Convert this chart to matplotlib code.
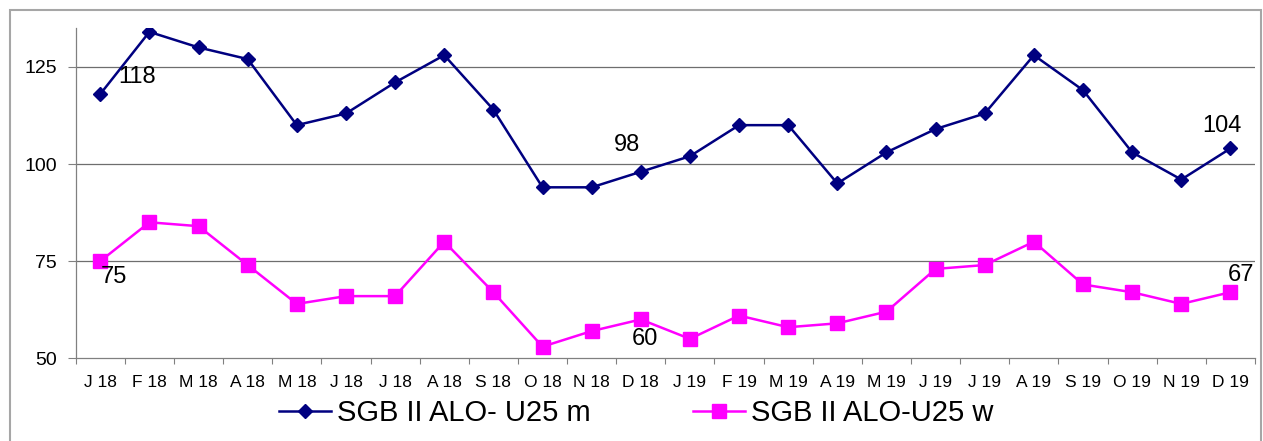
import matplotlib
matplotlib.use('Agg')
import matplotlib.pyplot as plt
import matplotlib.patches as patches
from matplotlib import font_manager
import numpy as np

# ── data ──────────────────────────────────────────────────────────────────
months = ["J 18", "F 18", "M 18", "A 18", "M 18", "J 18", "J 18", "A 18",
          "S 18", "O 18", "N 18", "D 18", "J 19", "F 19", "M 19", "A 19",
          "M 19", "J 19", "J 19", "A 19", "S 19", "O 19", "N 19", "D 19"]
male = [118, 134, 130, 127, 110, 113, 121, 128, 114, 94, 94, 98,
        102, 110, 110, 95, 103, 109, 113, 128, 119, 103, 96, 104]
female = [75, 85, 84, 74, 64, 66, 66, 80, 67, 53, 57, 60,
          55, 61, 58, 59, 62, 73, 74, 80, 69, 67, 64, 67]
label_male = "SGB II ALO- U25 m"
label_female = "SGB II ALO-U25 w"
yticks = [50, 75, 100, 125]

# labelled points: (index, offset px x, offset px y up, ha)
male_labels = [(0, 18, 17, 'left'), (11, -14, 27, 'center'), (23, -8, 22, 'center')]
female_labels = [(0, 14, -16, 'center'), (11, 4, -20, 'center'), (23, 11, 17, 'center')]

BLUE = "#000080"
PINK = "#FF00FF"
PX = 0.72  # px -> pt at dpi 100

# condensed font for month labels if there is one, else a smaller Arial-like
names = {f.name for f in font_manager.fontManager.ttflist}
if "Liberation Sans Narrow" in names:
    xfont, xsize = "Liberation Sans Narrow", 15
else:
    xfont, xsize = "Liberation Sans", 12.5

fig = plt.figure(figsize=(12.63, 4.41), dpi=100)
fig.patch.set_facecolor("white")

# outer chart frame
fig.patches.append(patches.Rectangle((10 / 1263, -0.05), 1251 / 1263, 1.05 - 10 / 441,
                                     transform=fig.transFigure, fill=False,
                                     edgecolor="#a6a6a6", linewidth=1.5))

ax = fig.add_axes([75.7 / 1263, 1 - 358.3 / 441, (1255 - 75.7) / 1263, (358.3 - 28) / 441])
x = np.arange(len(months))

ax.plot(x, male, color=BLUE, lw=1.8, marker='D', ms=7, mfc=BLUE, mec=BLUE,
        label=label_male, zorder=4)
ax.plot(x, female, color=PINK, lw=1.8, marker='s', ms=10, mfc=PINK, mec=PINK,
        label=label_female, zorder=4)

for series, labs in ((male, male_labels), (female, female_labels)):
    for i, dx, dy, ha in labs:
        ax.annotate(str(series[i]), xy=(x[i], series[i]), xytext=(dx * PX, dy * PX),
                    textcoords='offset points', ha=ha, va='center',
                    fontsize=17, color='black', family='Liberation Sans', zorder=5)

ax.set_xlim(-0.5, len(months) - 0.5)
ax.set_ylim(50, 135)
ax.set_yticks(yticks)
ax.set_yticklabels([str(v) for v in yticks], family='Liberation Sans', fontsize=14)
ax.tick_params(axis='y', length=5.5, width=0.8, color="#808080", pad=8)

ax.set_xticks(x)
ax.set_xticklabels(months, family=xfont, fontsize=xsize)
ax.set_xticks(np.arange(-0.5, len(months)), minor=True)
ax.tick_params(axis='x', which='major', length=0, pad=12)
ax.tick_params(axis='x', which='minor', length=4.3, width=0.8, color="#808080")

for v in yticks[1:]:
    ax.axhline(v, color="#6e6e6e", lw=0.9, zorder=1)

for side in ['top', 'right']:
    ax.spines[side].set_visible(False)
for side in ['left', 'bottom']:
    ax.spines[side].set_color("#808080")
    ax.spines[side].set_linewidth(0.9)

fig.legend(loc='center', bbox_to_anchor=(636 / 1263, 1 - 413 / 441), ncol=2,
           frameon=False, prop={'family': 'Liberation Sans', 'size': 21},
           handlelength=1.8, handletextpad=0.2, columnspacing=3.5,
           borderpad=0, borderaxespad=0)

fig.savefig("out.png", dpi=100, facecolor="white")
